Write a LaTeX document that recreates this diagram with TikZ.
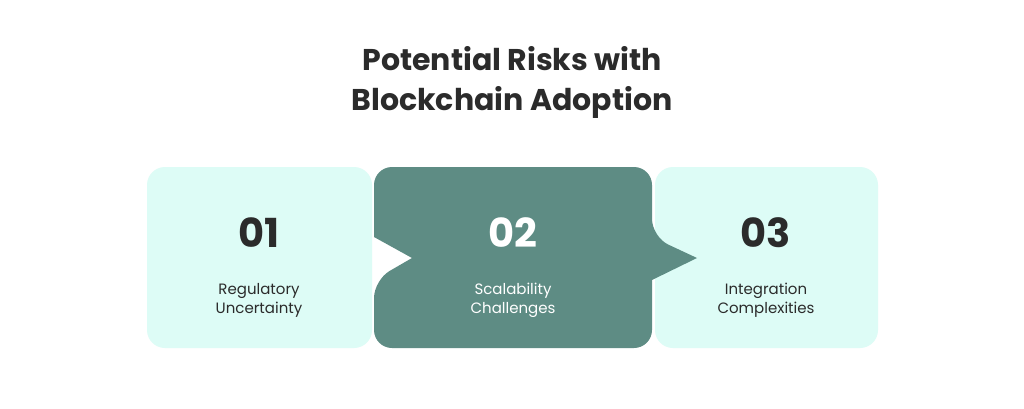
\documentclass[tikz,border=0pt]{standalone}
\usepackage{fontspec}
\setmainfont{Poppins}
\definecolor{palemint}{HTML}{DDFCF6}
\definecolor{darkteal}{HTML}{5E8C84}
\definecolor{inkgrey}{HTML}{2B2B2B}
\begin{document}
\begin{tikzpicture}[x=1pt, y=-1pt,
  numtext/.style={font=\bfseries\fontsize{40}{40}\selectfont},
  labeltext/.style={font=\fontsize{15}{19}\selectfont, align=center}]

	\useasboundingbox[fill=white](0,0)rectangle(1024,409);

	% title
	\node[inkgrey, font=\bfseries\fontsize{30}{40}\selectfont, align=center] (title) at (512,82) {Potential Risks with\\Blockchain Adoption};

	% boxes
	\fill[palemint, rounded corners=18pt](147,167)rectangle(372,348);
	\fill[palemint, rounded corners=18pt](655,167)rectangle(878,348);
	\fill[darkteal, rounded corners=18pt](374,167)--(652,167)--(652,237)[sharp corners]--(697,258)--(652,280)[rounded corners=18pt]--(652,348)--(374,348)--(374,280)[sharp corners]--(412,258)--(374,237)[rounded corners=18pt]--cycle;

	% texts
	\node[inkgrey, numtext] (num1) at (259,233) {01};
	\node[white, numtext] (num2) at (513,233) {02};
	\node[inkgrey, numtext] (num3) at (766,233) {03};

	\node[inkgrey, labeltext] (lab1) at (259,300) {Regulatory\\Uncertainty};
	\node[white, labeltext] (lab2) at (513,300) {Scalability\\Challenges};
	\node[inkgrey, labeltext] (lab3) at (766,300) {Integration\\Complexities};

\end{tikzpicture}
\end{document}
